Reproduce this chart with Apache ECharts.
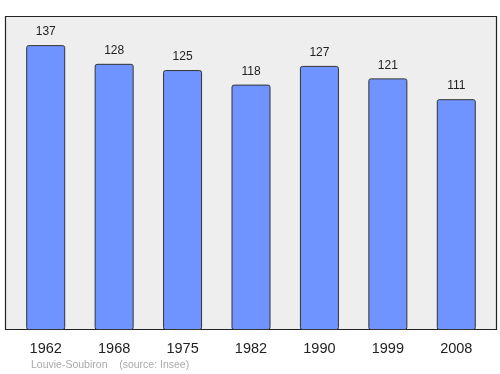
<!DOCTYPE html>
<html><head><meta charset="utf-8">
<script src="https://cdn.jsdelivr.net/npm/echarts@6/dist/echarts.min.js"></script>
<style>html,body{margin:0;padding:0;background:#fff}#c{width:500px;height:374px}</style>
</head><body><div id="c"></div>
<script>
const years = ['1962','1968','1975','1982','1990','1999','2008'];
const population = [137,128,125,118,127,121,111];
const footer = 'Louvie-Soubiron    (source: Insee)';

const chart = echarts.init(document.getElementById('c'), null, {renderer:'canvas'});
chart.setOption({
  animation:false,
  graphic:[
    {type:'rect', z:-10, shape:{x:5.5,y:16.5,width:491,height:313}, style:{fill:'#eeeeee',stroke:'#222',lineWidth:1.2}},
    {type:'text', left:31, top:360, style:{text:footer, fill:'#aaaaaa', font:'10.5px "Liberation Sans", Arial, sans-serif'}}
  ],
  grid:{left:11.5, right:9.5, top:16, bottom:44},
  xAxis:{type:'category', data:years, axisLine:{show:false}, axisTick:{show:false},
    axisLabel:{color:'#222', fontSize:14.5, fontFamily:'"Liberation Sans", Arial, sans-serif', margin:11}},
  yAxis:{type:'value', min:0, max:151, show:false, splitLine:{show:false}},
  series:[{type:'bar', data:population, barWidth:39,
    itemStyle:{color:'#7094ff', borderColor:'#333', borderWidth:1, borderRadius:2},
    label:{show:true, position:'top', distance:7, color:'#222', fontSize:12, fontFamily:'"Liberation Sans", Arial, sans-serif'}}]
});
</script></body></html>
